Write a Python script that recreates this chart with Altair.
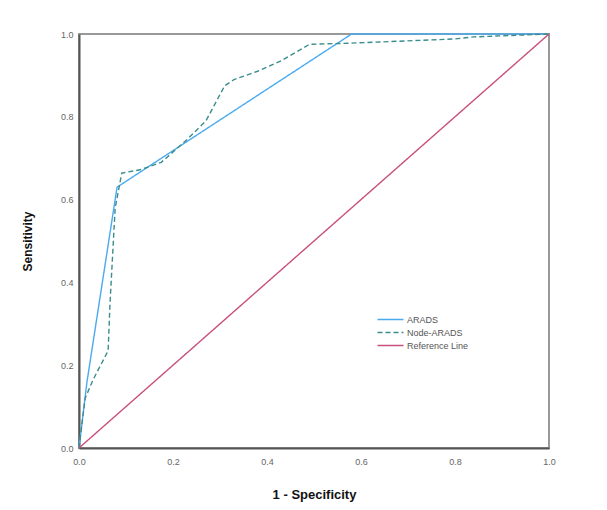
import altair as alt
import pandas as pd

# ROC curve coordinates (1 - specificity, sensitivity)
arads_fpr = [0.0, 0.017, 0.081, 0.58, 1.0]
arads_tpr = [0.0, 0.16, 0.63, 1.0, 1.0]

node_fpr = [0.0, 0.013, 0.03, 0.062, 0.066, 0.077, 0.087, 0.091, 0.13, 0.175,
            0.23, 0.27, 0.31, 0.33, 0.38, 0.43, 0.49, 0.58, 0.80, 0.84, 1.0]
node_tpr = [0.0, 0.12, 0.165, 0.235, 0.35, 0.58, 0.64, 0.664, 0.672, 0.69,
            0.745, 0.79, 0.875, 0.89, 0.91, 0.935, 0.975, 0.978, 0.988, 0.993, 1.0]

ref_fpr = [0.0, 1.0]
ref_tpr = [0.0, 1.0]

series = ["ARADS", "Node-ARADS", "Reference Line"]
colors = ["#4aaaf0", "#3b8c8c", "#c8507e"]

rows = []
for name, xs, ys in zip(series, [arads_fpr, node_fpr, ref_fpr], [arads_tpr, node_tpr, ref_tpr]):
    for i, (x, y) in enumerate(zip(xs, ys)):
        rows.append({"curve": name, "order": i, "fpr": x, "tpr": y})
df = pd.DataFrame(rows)

ticks = [0.0, 0.2, 0.4, 0.6, 0.8, 1.0]


def curve_legend():
    # wide horizontal stroke symbol with compact rows
    return alt.Legend(orient="none", legendX=304, legendY=278,
                      symbolType="M-2,0H2", symbolSize=169,
                      symbolStrokeWidth=1.4,
                      labelFontSize=9, labelColor="#555",
                      labelFont="Liberation Sans",
                      rowPadding=0, labelOffset=9)


chart = alt.Chart(df).mark_line(strokeWidth=1.4).encode(
    x=alt.X("fpr:Q", title="1 - Specificity",
            scale=alt.Scale(domain=[0, 1], nice=False),
            axis=alt.Axis(values=ticks, format=".1f", labelFlush=False,
                          labelPadding=9, titlePadding=22)),
    y=alt.Y("tpr:Q", title="Sensitivity",
            scale=alt.Scale(domain=[0, 1], nice=False),
            axis=alt.Axis(values=ticks, format=".1f", labelFlush=False,
                          labelPadding=6, titlePadding=26)),
    color=alt.Color("curve:N", title=None,
                    scale=alt.Scale(domain=series, range=colors),
                    legend=curve_legend()),
    strokeDash=alt.StrokeDash("curve:N", title=None,
                              scale=alt.Scale(domain=series,
                                              range=[[1, 0], [5, 3], [1, 0]]),
                              legend=curve_legend()),
    order="order:Q",
).properties(
    width=470, height=414,
    autosize=alt.AutoSizeParams(type="none"),
    padding={"left": 79, "top": 34, "right": 58, "bottom": 62},
).configure_view(
    stroke="#999999", strokeWidth=2
).configure_axis(
    grid=False, ticks=False,
    domainColor="#555555", domainWidth=2,
    labelFont="Liberation Sans", labelFontSize=9, labelColor="#666666",
    titleFont="Liberation Sans", titleFontSize=13, titleFontWeight="bold",
    titleColor="#111111",
).configure_axisY(
    titleFontSize=12
)

chart.save("out.html", embed_options={"renderer": "svg", "actions": False})
